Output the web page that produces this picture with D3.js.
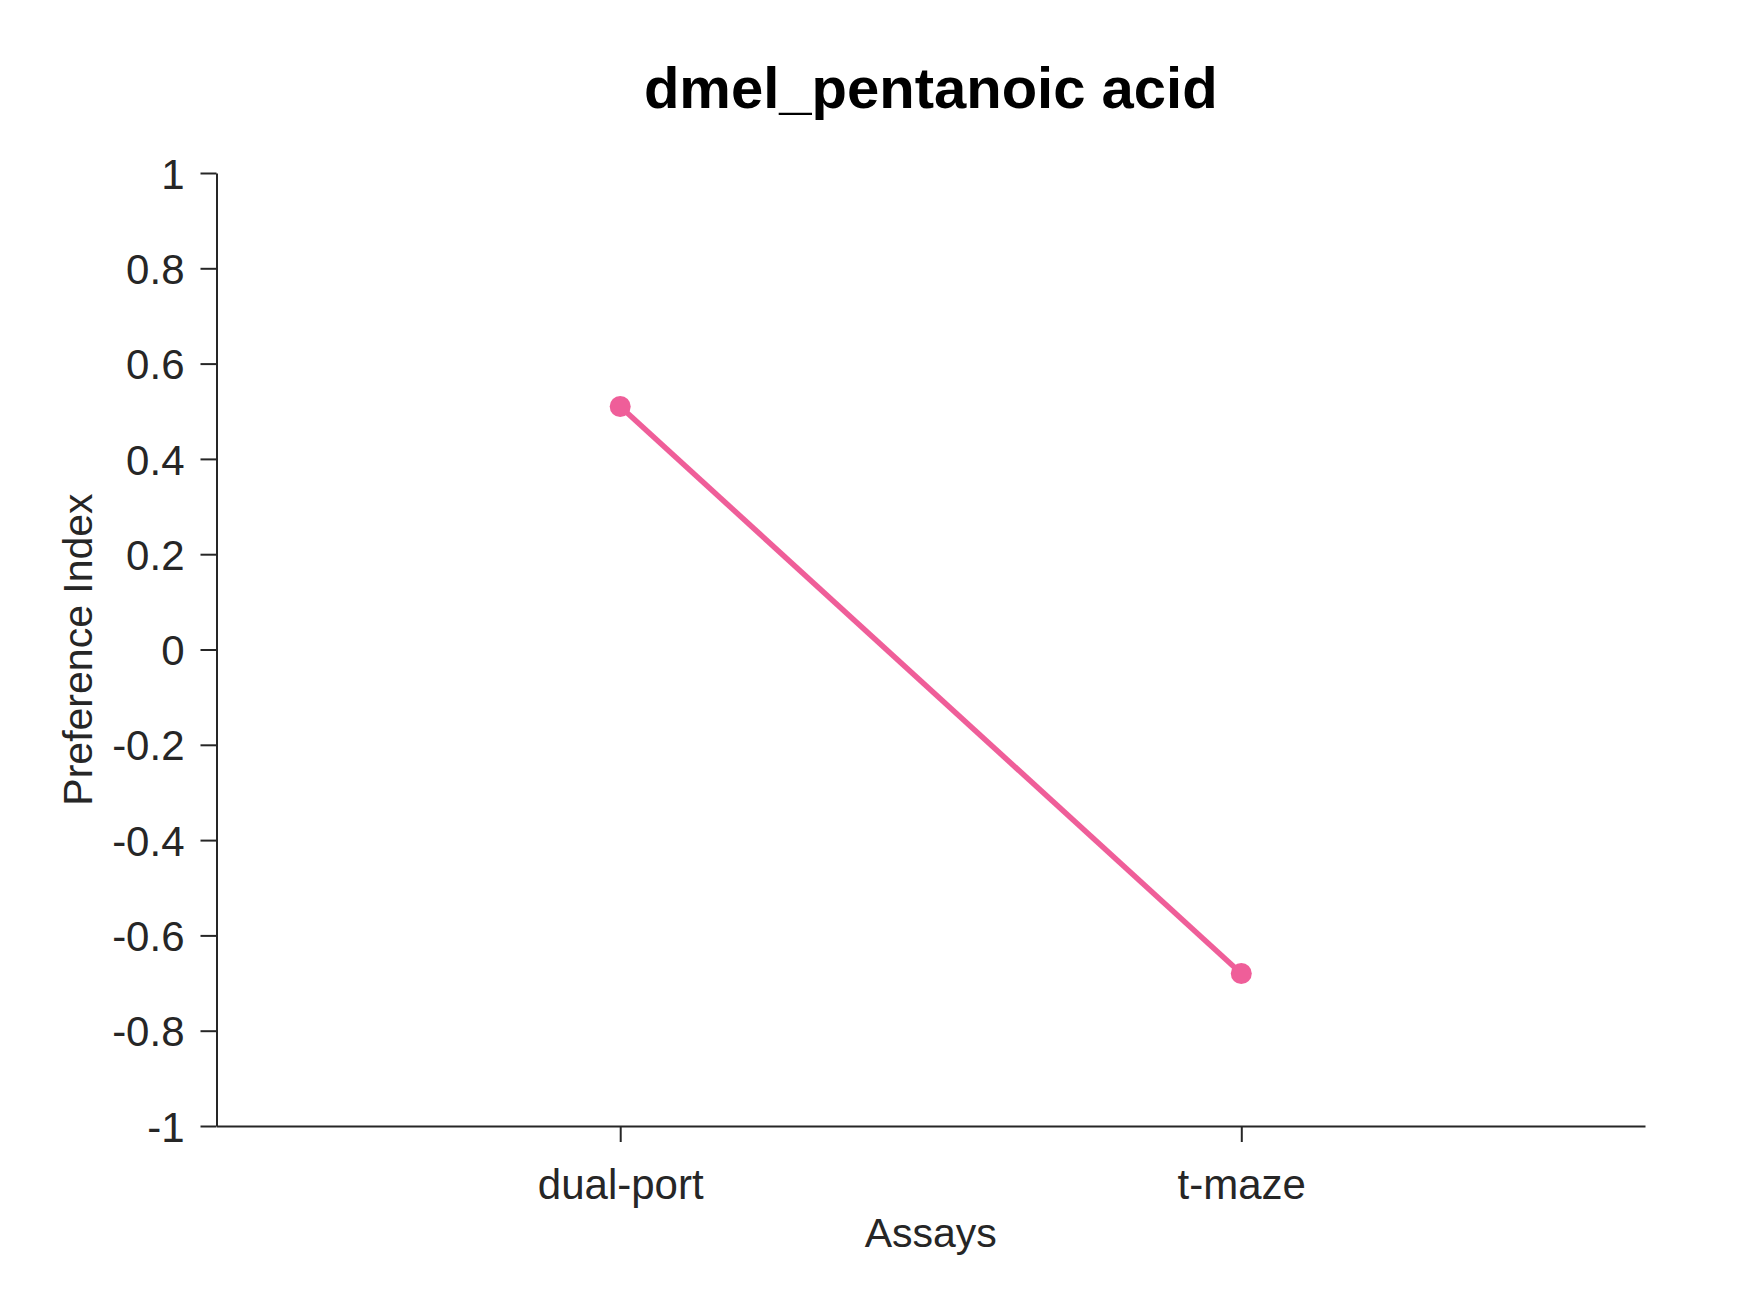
<!DOCTYPE html>
<html>
<head>
<meta charset="utf-8">
<script src="https://cdn.jsdelivr.net/npm/d3@7"></script>
<style>
  html, body { margin: 0; padding: 0; background: #ffffff; }
  svg { display: block; }
</style>
</head>
<body>
<svg id="chart" width="1750" height="1313"></svg>
<script>
const titleText = "dmel_pentanoic acid";
const categories = ["dual-port", "t-maze"];
const categoryPositions = [1, 2];
const values = [0.51, -0.68];
const yTickValues = [-1, -0.8, -0.6, -0.4, -0.2, 0, 0.2, 0.4, 0.6, 0.8, 1];
const yTickLabels = ["-1", "-0.8", "-0.6", "-0.4", "-0.2", "0", "0.2", "0.4", "0.6", "0.8", "1"];
const xLabel = "Assays";
const yLabel = "Preference Index";
const lineColor = "#EF5E99";

const font = "'Liberation Sans', Arial, Helvetica, sans-serif";
const axisColor = "#262626";

const plotLeft = 216.5, plotRight = 1645, plotTop = 173, plotBottom = 1126;

const svg = d3.select("#chart");

const x = d3.scaleLinear().domain([0.35, 2.65]).range([plotLeft, plotRight]);
const y = d3.scaleLinear().domain([-1, 1]).range([plotBottom, plotTop]);

// Y axis
const yAxis = d3.axisLeft(y)
  .tickValues(yTickValues)
  .tickFormat((d, i) => yTickLabels[i])
  .tickSize(16)
  .tickSizeOuter(0)
  .tickPadding(16);
const gy = svg.append("g").attr("transform", `translate(${plotLeft},0)`).call(yAxis);

// X axis
const xAxis = d3.axisBottom(x)
  .tickValues(categoryPositions)
  .tickFormat((d, i) => categories[i])
  .tickSize(16)
  .tickSizeOuter(0)
  .tickPadding(17);
const gx = svg.append("g").attr("transform", `translate(0,${plotBottom})`).call(xAxis);

[gx, gy].forEach(g => {
  g.select(".domain").attr("stroke", axisColor).attr("stroke-width", 2);
  g.selectAll(".tick line").attr("stroke", axisColor).attr("stroke-width", 2);
  g.selectAll(".tick text")
    .attr("fill", axisColor)
    .style("font-family", font)
    .style("font-size", "42px");
});
gy.selectAll(".tick text").attr("dy", "0.36em");
gx.selectAll(".tick text").attr("dy", "0.95em");

// Line
const pts = categoryPositions.map((p, i) => ({ x: p, y: values[i] }));
const line = d3.line().x(d => x(d.x)).y(d => y(d.y));
svg.append("path")
  .datum(pts)
  .attr("d", line)
  .attr("fill", "none")
  .attr("stroke", lineColor)
  .attr("stroke-width", 5.5);

svg.selectAll("circle.pt")
  .data(pts)
  .enter().append("circle")
  .attr("class", "pt")
  .attr("cx", d => x(d.x))
  .attr("cy", d => y(d.y))
  .attr("r", 10.5)
  .attr("fill", lineColor);

// Title
svg.append("text")
  .attr("x", (plotLeft + plotRight) / 2)
  .attr("y", 108)
  .attr("text-anchor", "middle")
  .style("font-family", font)
  .style("font-weight", "bold")
  .style("font-size", "58px")
  .attr("fill", "#000000")
  .text(titleText);

// X label
svg.append("text")
  .attr("x", (plotLeft + plotRight) / 2)
  .attr("y", 1247)
  .attr("text-anchor", "middle")
  .style("font-family", font)
  .style("font-size", "41px")
  .attr("fill", axisColor)
  .text(xLabel);

// Y label
svg.append("text")
  .attr("transform", `translate(92,${(plotTop + plotBottom) / 2}) rotate(-90)`)
  .attr("text-anchor", "middle")
  .style("font-family", font)
  .style("font-size", "41px")
  .attr("fill", axisColor)
  .text(yLabel);
</script>
</body>
</html>
